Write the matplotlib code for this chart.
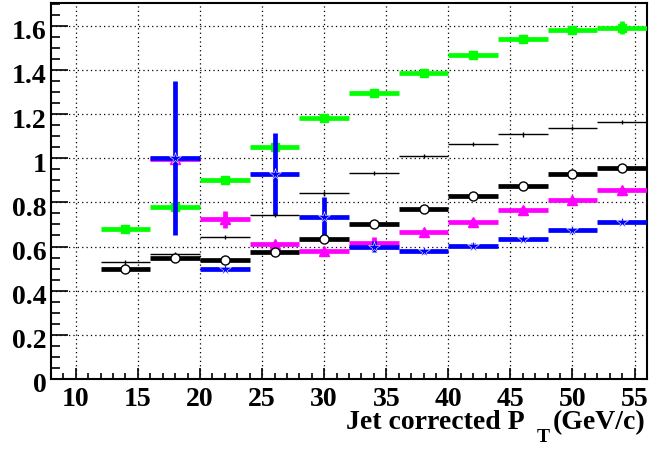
import numpy as np
import matplotlib
matplotlib.use("Agg")
import matplotlib.pyplot as plt
from matplotlib.ticker import MultipleLocator
from matplotlib.transforms import ScaledTranslation

plt.rcParams['font.family'] = ['Liberation Serif', 'DejaVu Serif']
plt.rcParams['font.weight'] = 'bold'

# ---- data ----
centers = [14, 18, 22, 26, 30, 34, 38, 42, 46, 50, 54]
half_width = 2

green = [0.678, 0.778, 0.901, 1.049, 1.181, 1.294, 1.387, 1.469, 1.540, 1.582, 1.591]
green_err = [0.01, 0.01, 0.01, 0.01, 0.01, 0.01, 0.01, 0.01, 0.01, 0.01, 0.03]

magenta = [np.nan, 0.995, 0.723, 0.611, 0.581, 0.614, 0.666, 0.713, 0.767, 0.809, 0.857]
magenta_err = [np.nan, 0.01, 0.04, 0.01, 0.01, 0.03, 0.01, 0.01, 0.01, 0.01, 0.01]

blue = [np.nan, 1.0, 0.497, 0.927, 0.734, 0.599, 0.578, 0.604, 0.633, 0.673, 0.710]
blue_err = [np.nan, 0.35, 0.01, 0.185, 0.09, 0.025, 0.01, 0.01, 0.01, 0.01, 0.01]

black_thin = [0.528, 0.566, 0.643, 0.743, 0.841, 0.932, 1.009, 1.064, 1.108, 1.138, 1.164]
black_thin_err = [0.01] * 11

black = [0.498, 0.547, 0.539, 0.574, 0.634, 0.703, 0.768, 0.830, 0.875, 0.928, 0.957]
black_err = [0.01] * 11

xtick_labels = ['10', '15', '20', '25', '30', '35', '40', '45', '50', '55']
ytick_labels = ['0', '0.2', '0.4', '0.6', '0.8', '1', '1.2', '1.4', '1.6']

# ---- figure ----
W, H = 651, 449
fig = plt.figure(figsize=(W/100, H/100), dpi=100)
ax = fig.add_axes([51/W, 1-379/H, (647-51)/W, (379-3)/H])

ax.set_xlim(8, 56)
ax.set_ylim(0, 1.703)

ax.grid(True, which='major', linestyle=(0, (1, 2.5)), color='black', linewidth=0.9)
ax.set_axisbelow(True)

lw = 3.4
ax.errorbar(centers, green, xerr=half_width, yerr=green_err, fmt='s', color='#00ff00',
            ecolor='#00ff00', elinewidth=lw, markersize=6, capsize=0, zorder=3)
ax.errorbar(centers, magenta, xerr=half_width, yerr=magenta_err, fmt='^', color='#ff00ff',
            ecolor='#ff00ff', elinewidth=lw, markersize=7, capsize=0, zorder=4)
ax.errorbar(centers, blue, xerr=half_width, yerr=blue_err, fmt='*', color='#0000ff',
            ecolor='#0000ff', elinewidth=lw, markersize=8.5, markeredgecolor='white',
            markeredgewidth=0.4, capsize=0, zorder=5)
ax.errorbar(centers, black_thin, xerr=half_width, yerr=black_thin_err, fmt='none',
            ecolor='black', elinewidth=1.0, capsize=0, zorder=6)
ax.errorbar(centers, black, xerr=half_width, yerr=black_err, fmt='o', color='black',
            ecolor='black', elinewidth=lw, markersize=6.5, markerfacecolor='white',
            markeredgecolor='black', markeredgewidth=1.0, capsize=0, zorder=7)

ax.set_xticks([10, 15, 20, 25, 30, 35, 40, 45, 50, 55])
ax.set_xticklabels(xtick_labels)
ax.set_yticks([0, 0.2, 0.4, 0.6, 0.8, 1.0, 1.2, 1.4, 1.6])
ax.set_yticklabels(ytick_labels)
ax.xaxis.set_minor_locator(MultipleLocator(1))
ax.yaxis.set_minor_locator(MultipleLocator(0.05))

ax.tick_params(axis='both', which='both', direction='in', width=1.2, labelsize=20)
ax.tick_params(axis='x', which='major', length=8, pad=6)
ax.tick_params(axis='x', which='minor', length=4.3)
ax.tick_params(axis='y', which='major', length=12, pad=3)
ax.tick_params(axis='y', which='minor', length=6.5)
ax.tick_params(top=False, right=False, which='both')

shift = ScaledTranslation(0, -4/100, fig.dpi_scale_trans)
for lab in ax.get_yticklabels():
    lab.set_transform(lab.get_transform() + shift)

for s in ax.spines.values():
    s.set_linewidth(1.5)
    s.set_color('black')

fig.text(525/W, 1-429/H, 'Jet corrected P', ha='right', va='baseline',
         fontsize=20, fontweight='bold')
fig.text(537/W, 1-442/H, 'T', ha='left', va='baseline',
         fontsize=14, fontweight='bold')
fig.text(646/W, 1-429/H, '(GeV/c)', ha='right', va='baseline',
         fontsize=20, fontweight='bold')

fig.savefig('out.png', dpi=100)
